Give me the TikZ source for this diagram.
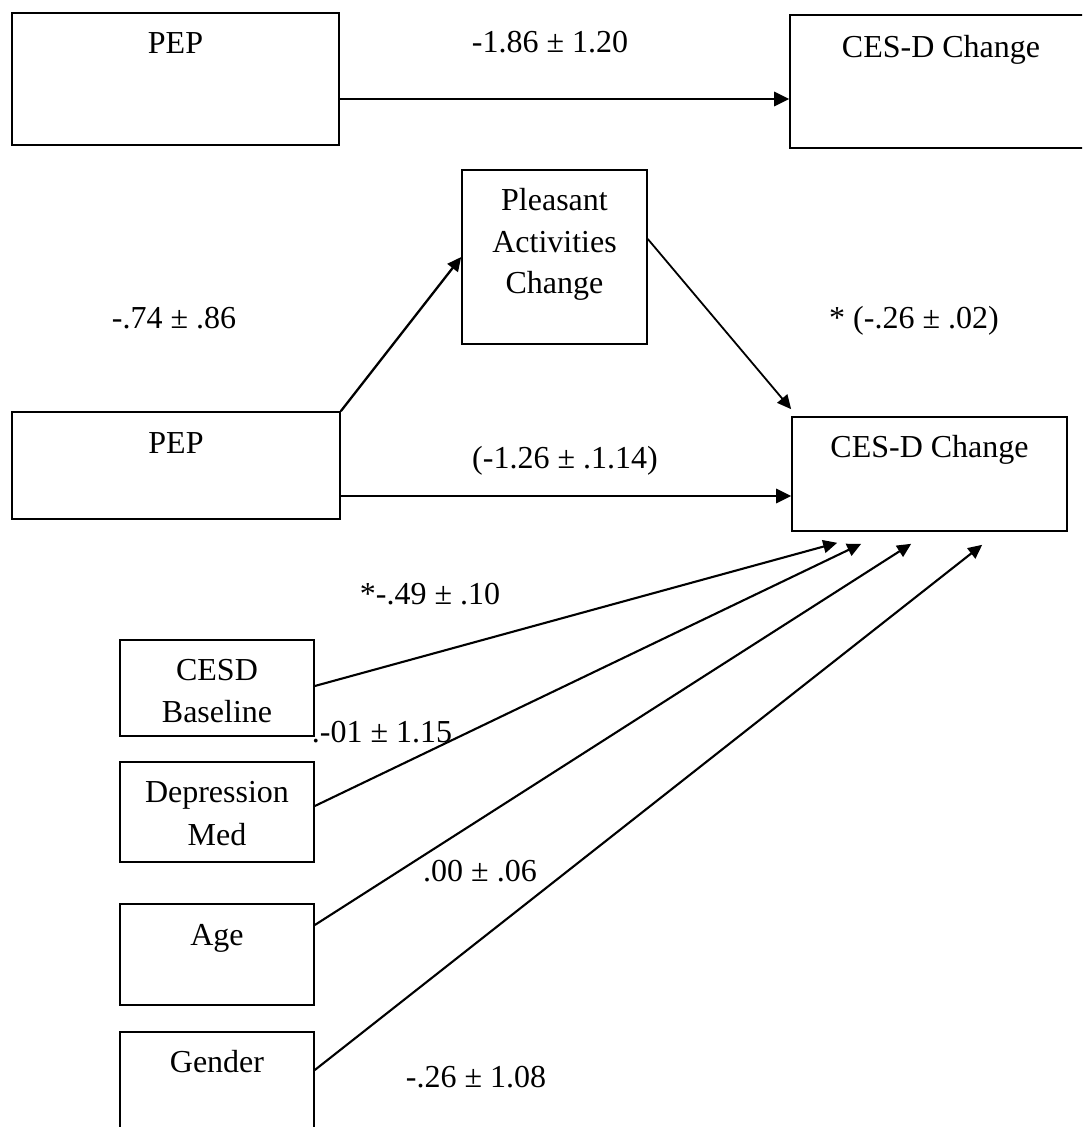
\documentclass[tikz,border=0pt]{standalone}
\usepackage{fontspec}
\setmainfont{Liberation Serif}
\usetikzlibrary{arrows.meta}
\begin{document}
\begin{tikzpicture}[x=1pt,y=-1pt,
  box/.style={draw=black, line width=1.6pt, rectangle, inner sep=0pt},
  lbl/.style={inner sep=0pt, anchor=base, font=\fontsize{32pt}{41.5pt}\selectfont},
  arrH/.style={line width=2.8pt, -{Triangle[length=15pt,width=14pt]}},
  arrD/.style={line width=2.1pt, -{Triangle[length=14pt,width=13pt]}}]
\useasboundingbox (0,0) rectangle (1082,1127);
\clip (0,0) rectangle (1082,1127);
\fill[white] (0,0) rectangle (1082,1127);
% boxes
\node[box, minimum width=327pt, minimum height=132pt] (pep1) at (175.5,79) {};
\node[box, minimum width=310pt, minimum height=133pt] (ces1) at (945,81.5) {};
\node[box, minimum width=185pt, minimum height=174pt] (pa) at (554.5,257) {};
\node[box, minimum width=328pt, minimum height=107pt] (pep2) at (176,465.5) {};
\node[box, minimum width=275pt, minimum height=114pt] (ces2) at (929.5,474) {};
\node[box, minimum width=194pt, minimum height=96pt] (base) at (217,688) {};
\node[box, minimum width=194pt, minimum height=100pt] (med) at (217,812) {};
\node[box, minimum width=194pt, minimum height=101pt] (age) at (217,954.5) {};
\node[box, minimum width=194pt, minimum height=118pt] (gen) at (217,1091) {};
% box texts
\node[lbl] (tpep1) at (175.5,53) {PEP};
\node[lbl] (tces1) at (941,57) {CES-D Change};
\node[lbl] (tpa1) at (554.5,210) {Pleasant};
\node[lbl] (tpa2) at (554.5,252) {Activities};
\node[lbl] (tpa3) at (554.5,293) {Change};
\node[lbl] (tpep2) at (176,453) {PEP};
\node[lbl] (tces2) at (929.5,457) {CES-D Change};
\node[lbl] (tbase1) at (217,680) {CESD};
\node[lbl] (tbase2) at (217,722) {Baseline};
\node[lbl] (tmed1) at (217,802) {Depression};
\node[lbl] (tmed2) at (217,845) {Med};
\node[lbl] (tage) at (217,945) {Age};
\node[lbl] (tgen) at (217,1072) {Gender};
% coefficient labels
\node[lbl] (c1) at (550,52) {-1.86 ± 1.20};
\node[lbl] (c2) at (174,328.5) {-.74 ± .86};
\node[lbl] (c3) at (914,328.5) {* (-.26 ± .02)};
\node[lbl] (c4) at (565,468.5) {(-1.26 ± .1.14)};
\node[lbl] (c5) at (430,604) {*-.49 ± .10};
\node[lbl] (c6) at (382,742) {.-01 ± 1.15};
\node[lbl] (c7) at (480,881) {.00 ± .06};
\node[lbl] (c8) at (476,1087) {-.26 ± 1.08};
% connectors
\coordinate (a1) at ([yshift=-20pt]pep1.east);
\draw[arrH] (a1) -- (a1 -| ces1.west);
\coordinate (a2) at ([yshift=-30.5pt]pep2.east);
\draw[arrH] (a2) -- (a2 -| ces2.west);
\draw[arrD, line width=2.3pt] (pep2.north east) -- (pa.west);
\draw[arrD, line width=1.8pt] ([yshift=18pt]pa.east) -- ([yshift=7pt]ces2.north west);
\coordinate (t1) at ([shift={(46pt,-11pt)}]ces2.south west);
\coordinate (t2) at ([shift={(70pt,-12pt)}]ces2.south west);
\coordinate (t3) at ([shift={(120pt,-12pt)}]ces2.south west);
\coordinate (t4) at ([shift={(191pt,-13pt)}]ces2.south west);
\draw[arrD] ([yshift=2pt]base.east) -- (t1);
\draw[arrD] ([yshift=6pt]med.east) -- (t2);
\draw[arrD] ([yshift=29.5pt]age.east) -- (t3);
\draw[arrD] ([yshift=21pt]gen.east) -- (t4);
\end{tikzpicture}
\end{document}
